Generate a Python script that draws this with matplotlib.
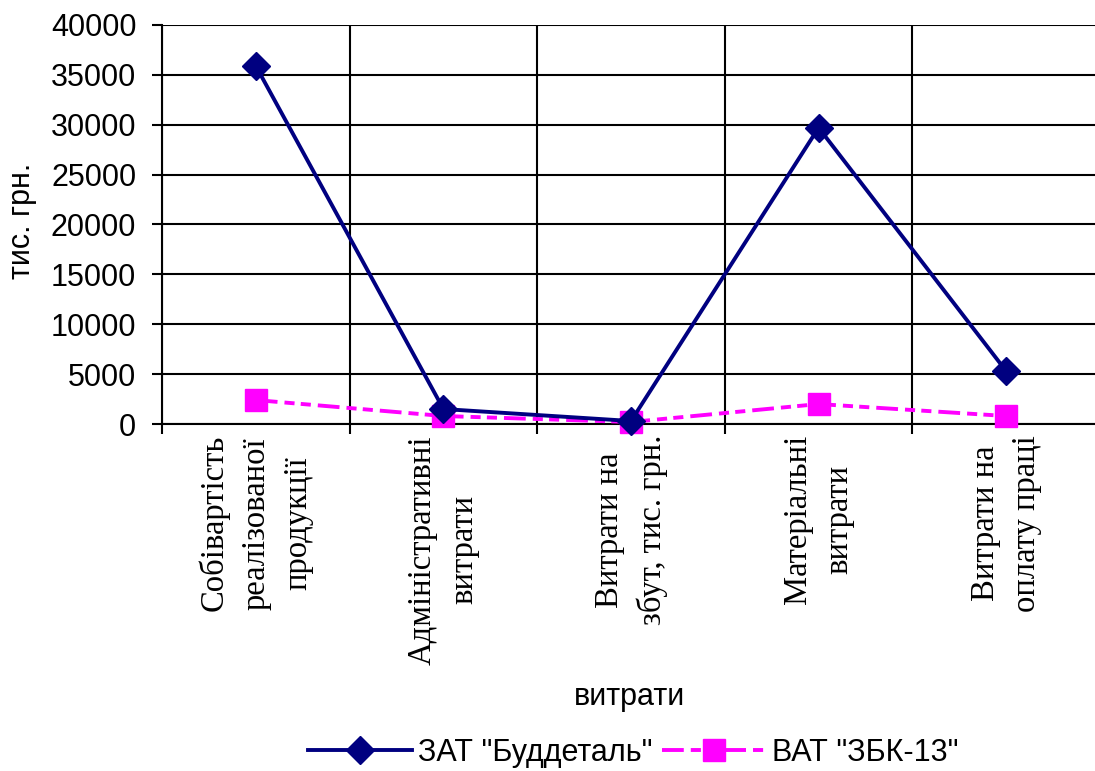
import numpy as np
import matplotlib.pyplot as plt
import matplotlib

matplotlib.rcParams.update({'font.size': 22, 'font.family': 'Liberation Sans'})

categories = ['Собівартість\nреалізованої\nпродукції',
              'Адміністративні\nвитрати',
              'Витрати на\nзбут, тис. грн.',
              'Матеріальні\nвитрати',
              'Витрати на\nоплату праці']
buddetal = [35900, 1500, 300, 29700, 5300]
zbk13 = [2400, 800, 200, 2000, 800]
series_names = ['ЗАТ "Буддеталь"', 'ВАТ "ЗБК-13"']

W, H = 1095, 771
fig = plt.figure(figsize=(W / 100, H / 100), dpi=100)
ax = fig.add_axes([162 / W, (H - 424) / H, (1100 - 162) / W, (424 - 25) / H])

x = np.arange(len(categories)) + 0.5
ax.plot(x, buddetal, color='#000080', lw=2.8, marker='D', ms=14,
        label=series_names[0], clip_on=False, zorder=4)
ax.plot(x, zbk13, color='#FF00FF', lw=2.8, marker='s', ms=16,
        dashes=(5.6, 1.8, 2.6, 1.6, 2.6, 1.8), label=series_names[1],
        clip_on=False, zorder=3)

ax.set_xlim(0, len(categories))
ax.set_ylim(0, 40000)
ax.set_yticks(np.arange(0, 40001, 5000))
ax.set_xticks(np.arange(0, len(categories) + 1))
ax.set_xticklabels([])
ax.set_xticks(x, minor=True)
ax.set_xticklabels(categories, minor=True, rotation=90, family='Liberation Serif',
                   fontsize=23.5, linespacing=1.48, ha='center', va='top')
ax.tick_params(axis='x', which='minor', length=0, pad=8)
ax.tick_params(axis='both', which='major', length=7.5, width=1.5, color='black')
ax.tick_params(axis='y', pad=11)

ax.grid(which='major', color='black', lw=1.5)
for s in ['top', 'right']:
    ax.spines[s].set_visible(False)
for s in ['left', 'bottom']:
    ax.spines[s].set_linewidth(1.5)
ax.set_axisbelow(True)

fig.text(22 / W, 1 - 221 / H, 'тис. грн.', rotation=90, ha='center', va='center', fontsize=22)
fig.text(630 / W, 1 - 697 / H, 'витрати', ha='center', va='center', fontsize=22)

fig.legend(loc='center', bbox_to_anchor=(633 / W, 1 - 753 / H), ncol=2, frameon=False,
           handlelength=3.4, columnspacing=0.3, handletextpad=0.2, fontsize=22)

plt.savefig('out.png', dpi=100)
